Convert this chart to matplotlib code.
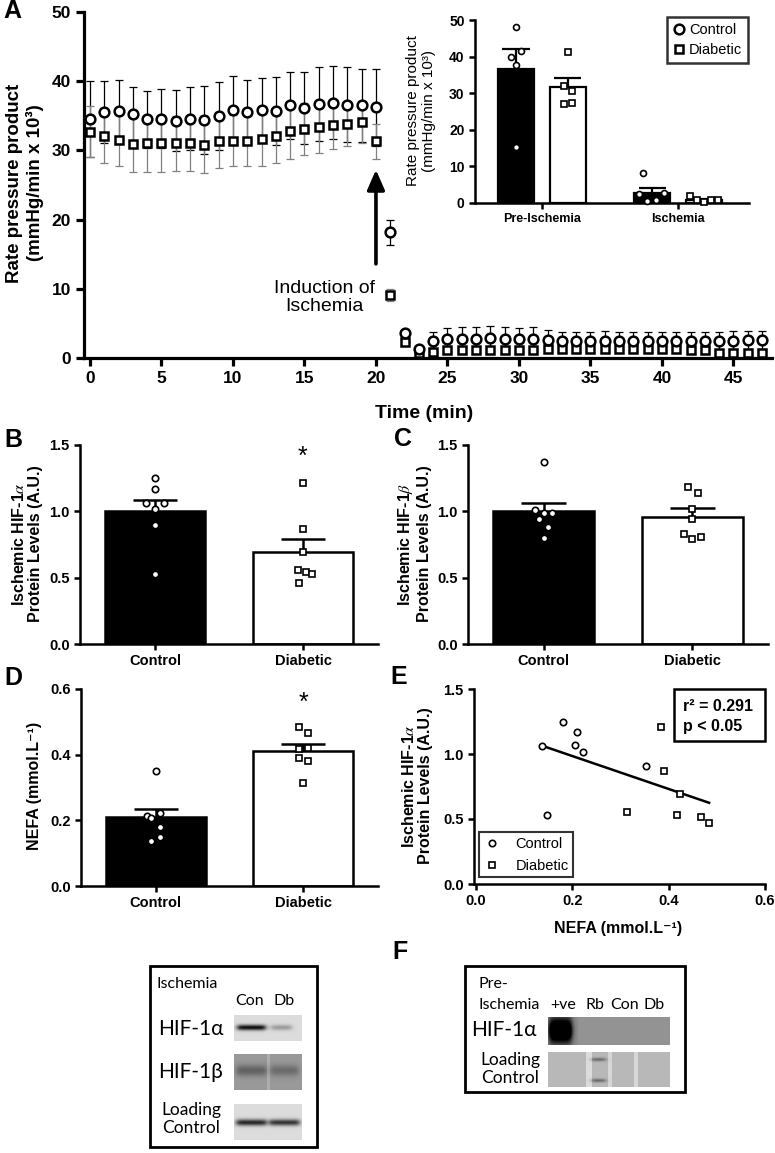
import numpy as np
import matplotlib
matplotlib.use("Agg")
import matplotlib.pyplot as plt
from matplotlib.patches import Rectangle

plt.rcParams['font.family'] = ['Liberation Sans', 'DejaVu Sans']
plt.rcParams['mathtext.fontset'] = 'stix'

# ── Panel A: rate pressure product over time (mean ± SEM) ──────────────────
time_min = np.arange(48)
ctrl_rpp = [34.5, 35.5, 35.7, 35.2, 34.5, 34.6, 34.3, 34.6, 34.4, 35.0, 35.8,
            35.6, 35.8, 35.7, 36.5, 36.1, 36.7, 36.9, 36.6, 36.5, 36.2,
            18.2, 3.6, 1.3,
            2.4, 2.7, 2.8, 2.8, 2.9, 2.8, 2.7, 2.8, 2.6, 2.4, 2.4, 2.4,
            2.5, 2.4, 2.4, 2.4, 2.5, 2.5, 2.4, 2.4, 2.4, 2.5, 2.6, 2.6]
ctrl_sem = [5.5, 4.5, 4.5, 4.0, 4.1, 4.3, 4.4, 4.6, 4.9, 4.9, 4.9,
            4.6, 4.6, 4.9, 4.9, 5.2, 5.3, 5.3, 5.4, 5.3, 5.6,
            1.8, 0.5, 0.3,
            1.4, 1.7, 1.7, 1.7, 1.7, 1.7, 1.7, 1.7, 1.5, 1.3, 1.3, 1.3,
            1.4, 1.3, 1.3, 1.3, 1.3, 1.3, 1.3, 1.3, 1.35, 1.35, 1.35, 1.35]
diab_rpp = [32.7, 32.1, 31.5, 30.9, 31.0, 31.0, 31.0, 31.0, 30.8, 31.3, 31.4,
            31.4, 31.7, 32.1, 32.8, 33.1, 33.4, 33.7, 33.8, 34.1, 31.3,
            9.1, 2.3, 0.7, 0.8,
            1.2, 1.2, 1.1, 1.1, 1.2, 1.2, 1.2, 1.3, 1.3, 1.3, 1.3, 1.3,
            1.3, 1.3, 1.3, 1.3, 1.3, 1.2, 1.1,
            0.7, 0.7, 0.7, 0.7]
diab_sem = [3.7, 3.9, 3.8, 4.0, 4.1, 4.1, 4.0, 4.0, 4.1, 3.8, 3.7,
            3.7, 3.9, 3.9, 4.0, 3.8, 3.8, 3.5, 3.2, 3.1, 2.5,
            0.9, 0.4] + [0.3] * 25

# inset: individual hearts
phases = ['Pre-Ischemia', 'Ischemia']
inset_ctrl_mean = [36.5, 2.8]
inset_ctrl_sem = [5.5, 1.2]
inset_diab_mean = [31.6, 0.9]
inset_diab_sem = [2.6, 0.3]
inset_ctrl_pts = [[48.2, 41.5, 40.0, 37.7, 15.4], [8.1, 2.4, 2.8, 0.5, 0.8]]
inset_diab_pts = [[41.3, 32.0, 30.5, 27.0, 27.3], [1.9, 0.8, 0.4, 0.8, 0.8]]

# ── Panels B-D: bar + scatter ───────────────────────────────────────────────
groups = ['Control', 'Diabetic']
hif1a_mean = [1.00, 0.69]
hif1a_sem = [0.085, 0.105]
hif1a_pts = [[1.25, 1.17, 1.06, 1.06, 1.02, 0.90, 0.53],
             [1.21, 0.87, 0.69, 0.56, 0.54, 0.53, 0.46]]
hif1b_mean = [1.00, 0.96]
hif1b_sem = [0.065, 0.063]
hif1b_pts = [[1.37, 1.01, 0.99, 0.99, 0.94, 0.88, 0.80],
             [1.18, 1.14, 1.02, 0.94, 0.83, 0.79, 0.81]]
nefa_mean = [0.209, 0.410]
nefa_sem = [0.026, 0.023]
nefa_pts = [[0.351, 0.222, 0.212, 0.207, 0.180, 0.148, 0.136],
            [0.483, 0.466, 0.417, 0.420, 0.390, 0.382, 0.314]]

# ── Panel E: correlation ────────────────────────────────────────────────────
e_ctrl_nefa = [0.137, 0.181, 0.210, 0.205, 0.222, 0.352, 0.147]
e_ctrl_hif = [1.059, 1.249, 1.170, 1.066, 1.015, 0.905, 0.533]
e_diab_nefa = [0.384, 0.391, 0.423, 0.314, 0.417, 0.468, 0.484]
e_diab_hif = [1.210, 0.870, 0.692, 0.554, 0.533, 0.512, 0.469]

W, H = 775, 1153
fig = plt.figure(figsize=(W / 100, H / 100), dpi=100)


def px_axes(left, top, right, bottom):
    return fig.add_axes([left / W, 1 - bottom / H, (right - left) / W, (bottom - top) / H])


def style(ax, lw=1.8, ticklen=4, fs=10.5):
    ax.spines['top'].set_visible(False)
    ax.spines['right'].set_visible(False)
    ax.spines['left'].set_linewidth(lw)
    ax.spines['bottom'].set_linewidth(lw)
    ax.tick_params(direction='out', width=lw, length=ticklen, labelsize=fs)
    for lab in ax.get_xticklabels() + ax.get_yticklabels():
        lab.set_fontweight('bold')


def vtext(xp, yp, s, **kw):
    fig.text(xp / W, 1 - yp / H, s, rotation=90, ha='center', va='center', **kw)


# ── A main ──────────────────────────────────────────────────────────────────
axA = px_axes(84, 12, 772, 358)
axA.errorbar(time_min, ctrl_rpp, yerr=ctrl_sem, fmt='none', ecolor='black',
             elinewidth=0.9, capsize=3, capthick=0.9, zorder=2)
axA.errorbar(time_min, diab_rpp, yerr=diab_sem, fmt='none', ecolor='0.5',
             elinewidth=0.9, capsize=3, capthick=0.9, zorder=2)
h_d, = axA.plot(time_min, diab_rpp, 's', ms=6.2, mfc='white', mec='black',
                mew=1.8, ls='none', zorder=3, label='Diabetic')
h_c, = axA.plot(time_min, ctrl_rpp, 'o', ms=7, mfc='white', mec='black',
                mew=1.8, ls='none', zorder=4, label='Control')
axA.set_xlim(-0.42, 47.7)
axA.set_ylim(0, 50)
axA.set_xticks(range(0, 46, 5))
axA.set_yticks(range(0, 51, 10))
style(axA, lw=2.3, ticklen=6, fs=12.5)
axA.annotate('', xy=(20, 27.6), xytext=(20, 13.2),
             arrowprops=dict(arrowstyle='-|>,head_width=0.35,head_length=0.8',
                             lw=2.6, color='black', mutation_scale=15))
axA.text(16.4, 8.7, 'Induction of\nIschemia', ha='center', va='center',
         fontsize=14, linespacing=1.05)
vtext(25, 183, 'Rate pressure product\n(mmHg/min x 10³)', fontsize=13.5,
      fontweight='bold', linespacing=1.25)
fig.text(424 / W, 1 - 414 / H, 'Time (min)', ha='center', va='center',
         fontsize=14, fontweight='bold')

# ── A inset ─────────────────────────────────────────────────────────────────
axI = px_axes(475, 20, 749, 203)
axI.patch.set_alpha(0)
xg = np.arange(len(phases))
for off, means, sems, fc in [(-0.19, inset_ctrl_mean, inset_ctrl_sem, 'black'),
                             (0.19, inset_diab_mean, inset_diab_sem, 'white')]:
    axI.bar(xg + off, means, 0.265, color=fc, edgecolor='black', lw=1.6, zorder=2)
    tops = np.add(means, sems)
    axI.vlines(xg + off, means, tops, color='black', lw=1.6, zorder=3)
    axI.hlines(tops, xg + off - 0.1, xg + off + 0.1, color='black', lw=1.6, zorder=3)
jit_c = [[0, 0.035, -0.035, 0, 0], [-0.07, -0.1, 0.09, -0.04, 0.026]]
jit_d = [[0, -0.03, 0.035, -0.03, 0.035], [-0.1, -0.05, 0, 0.05, 0.1]]
for i in range(2):
    axI.plot(xg[i] - 0.19 + np.array(jit_c[i]), inset_ctrl_pts[i], 'o', ms=4.3,
             mfc='white', mec='black', mew=1.2, ls='none', zorder=4, clip_on=False)
    axI.plot(xg[i] + 0.19 + np.array(jit_d[i]), inset_diab_pts[i], 's', ms=4.0,
             mfc='white', mec='black', mew=1.2, ls='none', zorder=4, clip_on=False)
axI.set_xlim(-0.49, 1.52)
axI.set_ylim(0, 50)
axI.set_yticks(range(0, 51, 10))
axI.set_xticks(xg)
axI.set_xticklabels(phases)
style(axI, lw=1.8, ticklen=4, fs=10)
axI.tick_params(axis='x', labelsize=9)
vtext(421, 111, 'Rate pressure product\n(mmHg/min x 10³)', fontsize=11, linespacing=1.2)
leg = axI.legend(handles=[h_c, h_d], loc='upper right',
                 bbox_to_anchor=(748 / W, 1 - 17 / H), bbox_transform=fig.transFigure,
                 frameon=True, fancybox=False, edgecolor='black', fontsize=10.5,
                 handlelength=0.8, handletextpad=0.3, borderpad=0.4, labelspacing=0.45,
                 borderaxespad=0)
leg.get_frame().set_linewidth(1.8)


# ── B, C, D ─────────────────────────────────────────────────────────────────
def bar_panel(ax, means, sems, pts, jit, ylim, yticks, fmt):
    x = np.arange(len(groups))
    ax.bar(x, means, 0.68, color=['black', 'white'], edgecolor='black', lw=1.8, zorder=2)
    tops = np.add(means, sems)
    ax.vlines(x, means, tops, color='black', lw=1.8, zorder=3)
    ax.hlines(tops, x - 0.15, x + 0.15, color='black', lw=1.8, zorder=3)
    for i, mk in enumerate(['o', 's']):
        ax.plot(x[i] + np.array(jit[i]), pts[i], mk, ms=4.6 if mk == 'o' else 4.3,
                mfc='white', mec='black', mew=1.2, ls='none', zorder=4, clip_on=False)
    ax.set_xlim(-0.507, 1.507)
    ax.set_ylim(*ylim)
    ax.set_yticks(yticks)
    ax.set_yticklabels([fmt.format(v) for v in yticks])
    ax.set_xticks(x)
    ax.set_xticklabels(groups)
    style(ax, lw=1.8, ticklen=4, fs=10.5)


axB = px_axes(80, 445, 378, 644)
bar_panel(axB, hif1a_mean, hif1a_sem, hif1a_pts,
          [[0, 0, -0.06, 0.06, 0, 0, 0], [0, 0, 0, -0.034, 0.023, 0.06, -0.027]],
          (0, 1.5), [0, 0.5, 1.0, 1.5], '{:.1f}')
axB.text(1, 1.41, '*', ha='center', va='center', fontsize=18)
vtext(27, 544, 'Ischemic HIF-1$\\alpha$\nProtein Levels (A.U.)', fontsize=11.5,
      fontweight='bold', linespacing=1.15)

axC = px_axes(468, 445, 768, 644)
bar_panel(axC, hif1b_mean, hif1b_sem, hif1b_pts,
          [[0, -0.06, 0, 0.06, -0.03, 0.03, 0], [-0.03, 0.035, 0, 0, -0.055, 0, 0.06]],
          (0, 1.5), [0, 0.5, 1.0, 1.5], '{:.1f}')
vtext(414, 544, 'Ischemic HIF-1$\\beta$\nProtein Levels (A.U.)', fontsize=11.5,
      fontweight='bold', linespacing=1.15)

axD = px_axes(81, 689, 378, 886)
bar_panel(axD, nefa_mean, nefa_sem, nefa_pts,
          [[0, 0.03, -0.06, -0.03, 0.03, 0.03, -0.03], [-0.03, 0.03, -0.03, 0.03, -0.03, 0.03, 0]],
          (0, 0.6), [0, 0.2, 0.4, 0.6], '{:.1f}')
axD.text(1, 0.558, '*', ha='center', va='center', fontsize=18)
vtext(34, 786, 'NEFA (mmol.L⁻¹)', fontsize=11.5, fontweight='bold')

# ── E ───────────────────────────────────────────────────────────────────────
axE = px_axes(474, 689, 765, 884)
hc, = axE.plot(e_ctrl_nefa, e_ctrl_hif, 'o', ms=4.6, mfc='white', mec='black',
               mew=1.2, ls='none', zorder=4, label='Control')
hd, = axE.plot(e_diab_nefa, e_diab_hif, 's', ms=4.3, mfc='white', mec='black',
               mew=1.2, ls='none', zorder=4, label='Diabetic')
all_x = np.array(e_ctrl_nefa + e_diab_nefa)
all_y = np.array(e_ctrl_hif + e_diab_hif)
slope, icpt = np.polyfit(all_x, all_y, 1)
xl = np.array([all_x.min(), all_x.max()])
axE.plot(xl, slope * xl + icpt, color='black', lw=1.8, zorder=3)
axE.set_xlim(-0.004, 0.6)
axE.set_ylim(0, 1.5)
axE.set_xticks([0, 0.2, 0.4, 0.6])
axE.set_xticklabels(['0.0', '0.2', '0.4', '0.6'])
axE.set_yticks([0, 0.5, 1.0, 1.5])
axE.set_yticklabels(['0.0', '0.5', '1.0', '1.5'])
style(axE, lw=1.8, ticklen=4, fs=10.5)
axE.add_patch(Rectangle((0.687, 0.735), 0.313, 0.265, transform=axE.transAxes,
                        fc='white', ec='black', lw=1.8, clip_on=False, zorder=5))
axE.text(0.717, 0.911, 'r² = 0.291', transform=axE.transAxes, ha='left',
         va='center', fontsize=11.5, fontweight='bold', zorder=6)
axE.text(0.717, 0.807, 'p < 0.05', transform=axE.transAxes, ha='left',
         va='center', fontsize=11.5, fontweight='bold', zorder=6)
legE = axE.legend(handles=[hc, hd], loc='lower left', bbox_to_anchor=(0.017, 0.035),
                  frameon=True, fancybox=False, edgecolor='black', fontsize=10.5,
                  handlelength=1.2, handletextpad=1.0, borderpad=0.3,
                  labelspacing=0.55, borderaxespad=0)
legE.get_frame().set_linewidth(1.5)
vtext(417, 786, 'Ischemic HIF-1$\\alpha$\nProtein Levels (A.U.)', fontsize=11.5,
      fontweight='bold', linespacing=1.15)
fig.text(618 / W, 1 - 928 / H, 'NEFA (mmol.L⁻¹)', ha='center', va='center',
         fontsize=11.5, fontweight='bold')

# panel letters
for letter, xp, yp in [('A', 12, 11), ('B', 13, 440), ('C', 403, 439),
                       ('D', 13, 678), ('E', 399, 677), ('F', 400, 952)]:
    fig.text(xp / W, 1 - yp / H, letter, ha='center', va='center',
             fontsize=18, fontweight='bold')


# ── F: western blots (schematic bands) ──────────────────────────────────────
def blot_image(h, w, bg, bands, lanes=()):
    yy, xx = np.mgrid[0:h, 0:w].astype(float)
    img = np.full((h, w), bg)
    for x0, x1, delta in lanes:
        img[:, x0:x1] += delta
    for xc, half, yc, sy, depth in bands:
        gx = 1 / (1 + np.exp(-(xx - (xc - half)) / 1.5)) / (1 + np.exp((xx - (xc + half)) / 1.5))
        gy = np.exp(-0.5 * ((yy - yc) / sy) ** 2)
        img -= depth * gx * gy
    return np.clip(img, 0, 1)


ov = fig.add_axes([0, 0, 1, 1], zorder=10)
ov.patch.set_alpha(0)
ov.axis('off')
blot_font = ['Lato', 'DejaVu Sans']


def put_blot(img, x0, x1, y0, y1):
    ov.imshow(img, cmap='gray', vmin=0, vmax=1, extent=(x0, x1, y1, y0),
              aspect='auto', interpolation='bilinear')


# left box (ischemia)
ov.add_patch(Rectangle((150, 966), 167, 181, fill=False, ec='black', lw=2))
ov.text(157, 984, 'Ischemia', ha='left', va='center', fontsize=11.5, family=blot_font)
ov.text(250, 1001, 'Con', ha='center', va='center', fontsize=11.5, family=blot_font)
ov.text(284, 1001, 'Db', ha='center', va='center', fontsize=11.5, family=blot_font)
ov.text(158, 1029, 'HIF-1α', ha='left', va='center', fontsize=15, family=blot_font)
ov.text(158, 1072, 'HIF-1β', ha='left', va='center', fontsize=15, family=blot_font)
ov.text(191, 1119, 'Loading\nControl', ha='center', va='center', fontsize=12.5,
        family=blot_font, linespacing=1.1)
put_blot(blot_image(26, 68, 0.86, [(17, 14, 12, 2.0, 0.8), (47, 10, 12, 2.0, 0.25)]),
         234, 302, 1015, 1041)
put_blot(blot_image(36, 68, 0.6, [(17, 15, 16, 4, 0.22), (50, 14, 16, 4, 0.18)],
                    lanes=[(33, 36, 0.08)]), 234, 302, 1054, 1090)
put_blot(blot_image(36, 68, 0.86, [(17, 15, 18, 2.3, 0.7), (50, 15, 18, 2.3, 0.65)]),
         234, 302, 1104, 1140)

# right box (pre-ischemia)
ov.add_patch(Rectangle((465, 966), 220, 126, fill=False, ec='black', lw=2))
ov.text(479, 984, 'Pre-', ha='left', va='center', fontsize=11.5, family=blot_font)
ov.text(479, 1005, 'Ischemia', ha='left', va='center', fontsize=11.5, family=blot_font)
for lab, xc in [('+ve', 563), ('Rb', 595), ('Con', 625), ('Db', 654)]:
    ov.text(xc, 1005, lab, ha='center', va='center', fontsize=11.5, family=blot_font)
ov.text(537, 1030, 'HIF-1α', ha='right', va='center', fontsize=15, family=blot_font)
ov.text(510, 1069, 'Loading\nControl', ha='center', va='center', fontsize=12.5,
        family=blot_font, linespacing=1.1)
put_blot(blot_image(28, 122, 0.55, [(12, 11, 13, 9, 0.95)], lanes=[(30, 122, 0.03)]),
         548, 670, 1017, 1045)
put_blot(blot_image(35, 122, 0.72, [(50, 7, 7, 1.3, 0.3), (50, 7, 28, 1.3, 0.3)],
                    lanes=[(38, 44, 0.14), (60, 64, 0.12), (86, 90, 0.12)]),
         548, 670, 1052, 1087)

ov.set_xlim(0, W)
ov.set_ylim(H, 0)

fig.savefig('out.png', dpi=100)
